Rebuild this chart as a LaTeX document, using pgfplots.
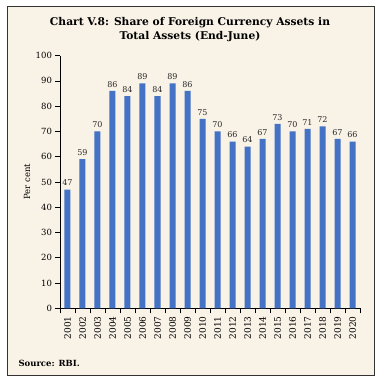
\documentclass[border=0pt]{standalone}
\usepackage{pgfplots}
\pgfplotsset{compat=1.18}
\usepackage{fontspec}
\setmainfont{DejaVu Serif}
\definecolor{bg}{HTML}{F8F2E7}
\definecolor{barc}{HTML}{4472C4}
\begin{document}
\begin{tikzpicture}
\fill[white] (0pt,0pt) rectangle (381pt,381pt);
\filldraw[fill=bg, draw=black!80, line width=0.8pt] (7pt,6pt) rectangle (374pt,375pt);
\node[font=\bfseries\fontsize{10.7}{14}\selectfont, align=center] at (190pt,351pt) {Chart V.8: Share of Foreign Currency Assets in\\Total Assets (End-June)};
\node[anchor=west, font=\bfseries\fontsize{8.5}{10}\selectfont] at (15pt,18pt) {Source: RBI.};
\begin{axis}[
  at={(60pt,72.7pt)}, anchor=south west,
  scale only axis, width=300pt, height=252.7pt,
  xmin=-0.5, xmax=19.5, ymin=0, ymax=100,
  axis x line*=bottom, axis y line*=left,
  axis line style={black, line width=0.7pt},
  ybar, bar width=6pt,
  ytick={0,10,...,100},
  xtick={0,...,19},
  xticklabels={2001,2002,2003,2004,2005,2006,2007,2008,2009,2010,2011,2012,2013,2014,2015,2016,2017,2018,2019,2020},
  minor xtick={-0.5,0.5,...,19.5},
  tick align=outside,
  major tick length=4.5pt,
  x tick style={draw=none},
  minor x tick style={draw=black, line width=0.7pt},
  minor tick length=5pt,
  y tick style={black, line width=0.7pt},
  x tick label style={rotate=90, anchor=east, font=\fontsize{9}{10}\selectfont},
  y tick label style={font=\fontsize{8.5}{10}\selectfont},
  /pgf/number format/assume math mode=true,
  ylabel={Per cent},
  ylabel style={at={(axis description cs:-0.11,0.5)}, anchor=center, font=\fontsize{8.5}{10}\selectfont},
  nodes near coords,
  nodes near coords style={font=\fontsize{8}{9}\selectfont, text=black!85, /pgf/number format/assume math mode=true},
]
\addplot[fill=barc, draw=none] coordinates {
(0,47) (1,59) (2,70) (3,86) (4,84) (5,89) (6,84) (7,89) (8,86) (9,75)
(10,70) (11,66) (12,64) (13,67) (14,73) (15,70) (16,71) (17,72) (18,67) (19,66)
};
\end{axis}
\end{tikzpicture}
\end{document}
